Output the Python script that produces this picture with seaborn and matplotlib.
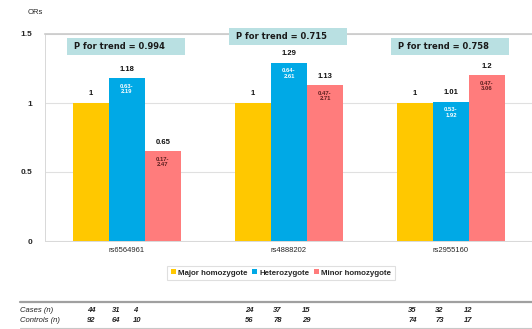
import matplotlib
matplotlib.use("Agg")
import matplotlib.pyplot as plt
import seaborn as sns
import pandas as pd
from matplotlib.patches import Rectangle

snps = ["rs6564961", "rs4888202", "rs2955160"]
genotypes = ["Major homozygote", "Heterozygote", "Minor homozygote"]
ors = {
    "Major homozygote": [1.00, 1.00, 1.00],
    "Heterozygote": [1.18, 1.29, 1.01],
    "Minor homozygote": [0.65, 1.13, 1.20],
}
ci_labels = {
    "Major homozygote": ["", "", ""],
    "Heterozygote": ["0.63-\n2.19", "0.64-\n2.61", "0.53-\n1.92"],
    "Minor homozygote": ["0.17-\n2.47", "0.47-\n2.71", "0.47-\n3.06"],
}
p_trend = ["0.994", "0.715", "0.758"]
cases_n = [[44, 31, 4], [24, 37, 15], [35, 32, 12]]
controls_n = [[92, 64, 10], [56, 78, 29], [74, 73, 17]]

colors = ["#FFC800", "#00A9E6", "#FF7C7C"]
ci_colors = ["#000000", "#FFFFFF", "#5A1E1E"]

rows = []
for g in genotypes:
    for s, v in zip(snps, ors[g]):
        rows.append({"SNP": s, "Genotype": g, "OR": v})
df = pd.DataFrame(rows)

sns.set_theme(style="white")
plt.rcParams["font.family"] = ["Liberation Sans", "DejaVu Sans"]

W, H = 532, 329
fig = plt.figure(figsize=(W / 100, H / 100), dpi=100)
ax = fig.add_axes([45 / W, 1 - 241 / H, 1 - 45 / W, (241 - 34) / H])

sns.barplot(data=df, x="SNP", y="OR", hue="Genotype", order=snps,
            hue_order=genotypes, palette=colors, width=0.667, gap=0,
            saturation=1, errorbar=None, ax=ax, legend=True, zorder=3,
            linewidth=0, edgecolor="none")

ax.set_xlim(-0.506, 2.5)
ax.set_ylim(0, 1.5)
ax.set_yticks([0, 0.5, 1, 1.5])
ax.set_yticklabels(["0", "0.5", "1", "1.5"], fontsize=6, fontweight="bold")
ax.set_xticks(range(3))
ax.set_xticklabels(snps, fontsize=5.5)
ax.tick_params(axis="both", length=0, pad=4)
ax.tick_params(axis="y", pad=9)
ax.set_xlabel("")
ax.set_ylabel("")
ax.yaxis.grid(True, color="#E0E0E0", linewidth=0.8, zorder=0)
for side in ["left", "bottom"]:
    ax.spines[side].set_color("#D8D8D8")
    ax.spines[side].set_linewidth(0.7)
ax.spines["top"].set_color("#CACACA")
ax.spines["top"].set_linewidth(1.2)
ax.spines["right"].set_visible(False)

fig.text(35 / W, 1 - 13 / H, "ORs", fontsize=5.5, ha="center", va="center")

# value labels above the bars and confidence intervals inside them
for gi, (g, cont) in enumerate(zip(genotypes, ax.containers)):
    for si, bar in enumerate(cont.patches):
        x = bar.get_x() + bar.get_width() / 2
        v = ors[g][si]
        ax.text(x, v + 0.04, f"{v:g}", ha="center", va="bottom",
                fontsize=5.5, fontweight="bold", color="#111111", zorder=5)
        if ci_labels[g][si]:
            ax.text(x, v - 0.04, ci_labels[g][si], ha="center", va="top",
                    fontsize=4.2, fontweight="bold", color=ci_colors[gi],
                    linespacing=1.1, zorder=5)

# P for trend boxes
box_y = [1.35, 1.42, 1.35]
for i, (p, y0) in enumerate(zip(p_trend, box_y)):
    ax.add_patch(Rectangle((i - 0.37, y0), 0.728, 0.123, facecolor="#B9E0E2",
                           edgecolor="none", clip_on=False, zorder=4))
    ax.text(i - 0.33, y0 + 0.062, f"P for trend = {p}", ha="left",
            va="center", fontsize=6, fontweight="semibold", color="#1A1A1A",
            family="DejaVu Sans", zorder=6)

leg = ax.legend(loc="center", bbox_to_anchor=(281 / W, 1 - 273 / H),
                bbox_transform=fig.transFigure, ncol=3, fontsize=5.7,
                frameon=True, handlelength=0.6, handleheight=0.6,
                handletextpad=0.3, columnspacing=0.6, borderpad=0.45,
                fancybox=False)
leg.get_frame().set_edgecolor("#D8D8D8")
leg.get_frame().set_linewidth(0.8)
for t in leg.get_texts():
    t.set_fontweight("bold")

# genotype counts table
fig.add_artist(plt.Line2D([20 / W, 1], [1 - 302 / H] * 2, color="#A0A0A0",
                          linewidth=1.6, transform=fig.transFigure))
fig.add_artist(plt.Line2D([20 / W, 1], [1 - 328 / H] * 2, color="#C8C8C8",
                          linewidth=0.8, transform=fig.transFigure))
col_x = [[87, 112, 133], [245, 273, 302], [408, 435, 464]]
for label, counts, yp in [("Cases (n)", cases_n, 311),
                          ("Controls (n)", controls_n, 321)]:
    fig.text(20 / W, 1 - yp / H, label, fontsize=5.5, style="italic",
             ha="left", va="center", color="#222222")
    for xs, vals in zip(col_x, counts):
        for xp, v in zip(xs, vals):
            fig.text(xp / W, 1 - yp / H, str(v), fontsize=5.5, style="italic",
                     fontweight="bold", ha="left", va="center", color="#222222")

fig.savefig("out.png", dpi=100)
